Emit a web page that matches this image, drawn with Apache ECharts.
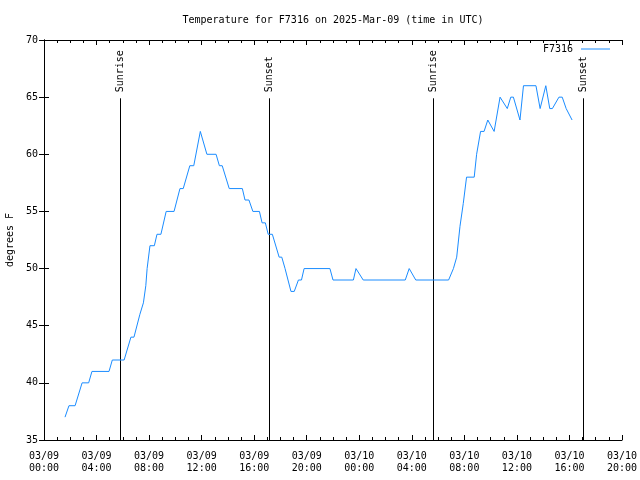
<!DOCTYPE html>
<html>
<head>
<meta charset="utf-8">
<script src="https://cdn.jsdelivr.net/npm/echarts@6/dist/echarts.min.js"></script>
<style>html,body{margin:0;padding:0;background:#fff}#c{width:640px;height:480px}</style>
</head>
<body>
<div id="c"></div>
<script>
// ---- data ----
var times = [
  "03/09 01:36","03/09 01:54","03/09 02:22","03/09 02:54","03/09 03:24","03/09 03:39",
  "03/09 04:57","03/09 05:12","03/09 06:06","03/09 06:37","03/09 06:51","03/09 07:18",
  "03/09 07:34","03/09 07:45","03/09 07:51","03/09 08:04","03/09 08:24","03/09 08:36",
  "03/09 08:54","03/09 09:18","03/09 09:54","03/09 10:21","03/09 10:36","03/09 11:06",
  "03/09 11:24","03/09 11:54","03/09 12:24","03/09 13:06","03/09 13:21","03/09 13:34",
  "03/09 14:06","03/09 15:06","03/09 15:18","03/09 15:36","03/09 15:54","03/09 16:24",
  "03/09 16:36","03/09 16:51","03/09 17:04","03/09 17:23","03/09 17:54","03/09 18:06",
  "03/09 18:21","03/09 18:48","03/09 19:03","03/09 19:22","03/09 19:36","03/09 19:48",
  "03/09 21:46","03/09 22:00","03/09 23:33","03/09 23:45","03/10 00:18","03/10 03:30",
  "03/10 03:48","03/10 04:18","03/10 06:48","03/10 07:10","03/10 07:25","03/10 07:40",
  "03/10 07:55","03/10 08:10","03/10 08:45","03/10 08:56","03/10 09:14","03/10 09:30",
  "03/10 09:47","03/10 10:16","03/10 10:43","03/10 11:16","03/10 11:32","03/10 11:44",
  "03/10 12:14","03/10 12:30","03/10 13:27","03/10 13:46","03/10 14:12","03/10 14:30",
  "03/10 14:42","03/10 15:12","03/10 15:27","03/10 15:45","03/10 16:12"
];
var temps = [
  37,38,38,40,40,41,
  41,42,42,44,44,46,
  47,48.5,50,52,52,53,
  53,55,55,57,57,59,
  59,62,60,60,59,59,
  57,57,56,56,55,55,
  54,54,53,53,51,51,
  50,48,48,49,49,50,
  50,49,49,50,49,49,
  50,49,49,50,51,53.7,
  55.7,58,58,60,62,62,
  63,62,65,64,65,65,
  63,66,66,64,66,64,
  64,65,65,64,63
];
var seriesName = "F7316";
var sunTimes = ["03/09 05:47","03/09 17:08","03/10 05:37","03/10 17:02"];
var sunLabels = ["Sunrise","Sunset","Sunrise","Sunset"];
var dayLabels = ["03/09","03/10"];
var titleText = "Temperature for F7316 on 2025-Mar-09 (time in UTC)";
var yName = "degrees F";

// ---- helpers ----
function toHours(s) {
  var parts = s.split(" ");
  var d = parseInt(parts[0].split("/")[1], 10) - 9;
  var hm = parts[1].split(":");
  return d * 24 + parseInt(hm[0], 10) + parseInt(hm[1], 10) / 60;
}
function pad(n) { return (n < 10 ? "0" : "") + n; }
var FONT = "DejaVu Sans Mono";
var lineData = times.map(function (t, i) { return [toHours(t), temps[i]]; });
var sunData = sunTimes.map(function (t) { return [toHours(t), 35]; });
var SUN_TOP = 64.9;
var LINE_COLOR = "#1a8cff";

var axisCommon = {
  type: "value",
  axisLine: { show: true, lineStyle: { color: "#000", width: 1 } },
  axisTick: { show: true, inside: true, length: 5, lineStyle: { color: "#000" } },
  splitLine: { show: false }
};

var chart = echarts.init(document.getElementById("c"), null, { renderer: "canvas" });
chart.setOption({
  animation: false,
  backgroundColor: "#fff",
  title: {
    text: titleText, left: 333, top: 15, padding: 0, textAlign: "center",
    textStyle: { fontFamily: FONT, fontSize: 10, fontWeight: "normal", color: "#000" }
  },
  legend: {
    data: [{ name: seriesName, icon: "rect" }], right: 30, top: 44, padding: 0, align: "right",
    itemWidth: 29, itemHeight: 1, itemGap: 5,
    itemStyle: { color: LINE_COLOR },
    textStyle: { fontFamily: FONT, fontSize: 10, color: "#000", padding: [0, 3, 0, 0] }
  },
  grid: { left: 44, right: 18, top: 40, bottom: 40, containLabel: false, outerBoundsMode: "none" },
  xAxis: [
    Object.assign({}, axisCommon, {
      position: "bottom", min: 0, max: 44, interval: 4,
      minorTick: { show: true, splitNumber: 4, length: 3, lineStyle: { color: "#000" } },
      axisLabel: {
        color: "#000", fontFamily: FONT, fontSize: 10, lineHeight: 12, margin: 10,
        formatter: function (v) {
          var d = Math.floor(v / 24);
          return dayLabels[d] + "\n" + pad(Math.round(v - d * 24)) + ":00";
        }
      }
    }),
    Object.assign({}, axisCommon, {
      position: "top", min: 0, max: 44, interval: 4,
      minorTick: { show: true, splitNumber: 4, length: 3, lineStyle: { color: "#000" } },
      axisLabel: { show: false }
    })
  ],
  yAxis: [
    Object.assign({}, axisCommon, {
      position: "left", min: 35, max: 70, interval: 5,
      name: yName, nameLocation: "middle", nameGap: 28, nameRotate: 90,
      nameTextStyle: { fontFamily: FONT, fontSize: 10, color: "#000" },
      axisLabel: { color: "#000", fontFamily: FONT, fontSize: 10, margin: 6 }
    }),
    Object.assign({}, axisCommon, {
      position: "right", min: 35, max: 70, interval: 5,
      axisLabel: { show: false }
    })
  ],
  series: [
    {
      type: "custom", name: "sun", xAxisIndex: 0, yAxisIndex: 0,
      data: sunData, silent: true,
      renderItem: function (params, api) {
        var t = api.value(0);
        var p0 = api.coord([t, 35]);
        var p1 = api.coord([t, SUN_TOP]);
        var x = Math.round(p0[0]) + 0.5;
        return {
          type: "group",
          children: [
            { type: "line", shape: { x1: x, y1: p0[1], x2: x, y2: p1[1] },
              style: { stroke: "#000", lineWidth: 1 } },
            { type: "text", x: x, y: p1[1] - 6, rotation: Math.PI / 2,
              style: { text: sunLabels[params.dataIndex], fill: "#000",
                       font: "10px " + FONT, align: "left", verticalAlign: "middle" } }
          ]
        };
      }
    },
    {
      type: "line", name: seriesName, xAxisIndex: 0, yAxisIndex: 0,
      data: lineData, symbol: "none", showSymbol: false,
      lineStyle: { color: LINE_COLOR, width: 1 }, itemStyle: { color: LINE_COLOR }
    }
  ]
});
</script>
</body>
</html>
